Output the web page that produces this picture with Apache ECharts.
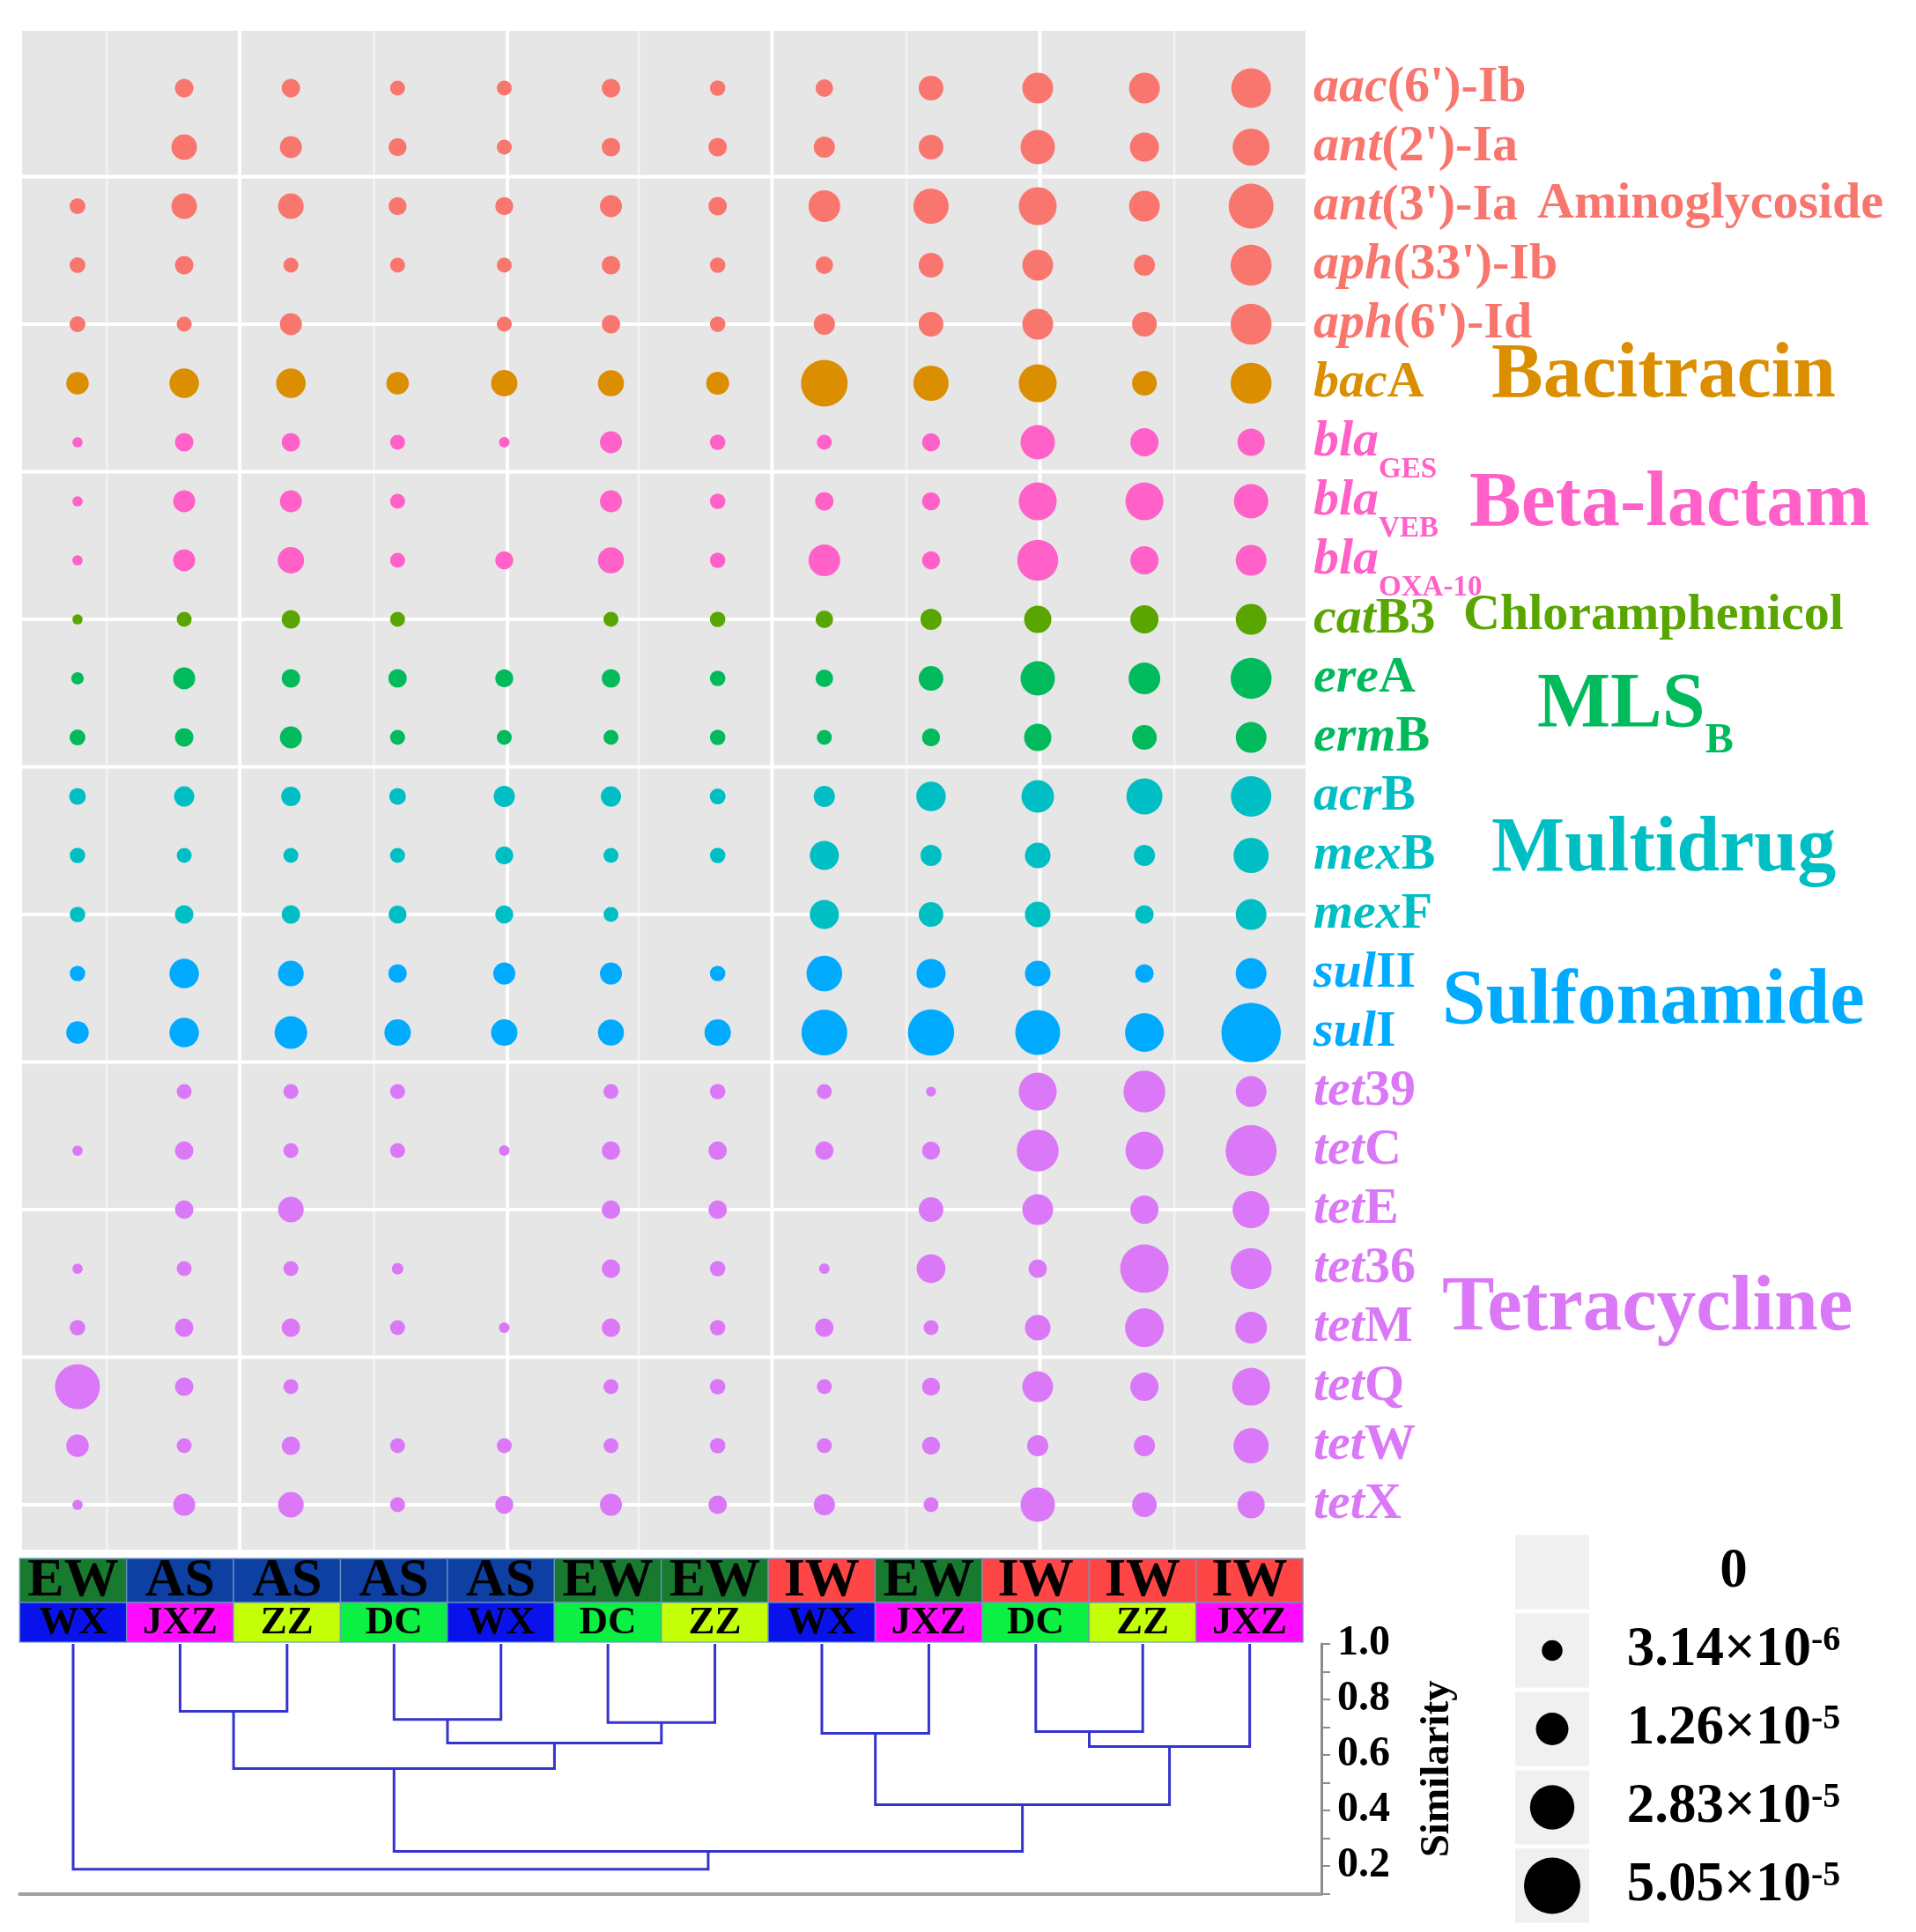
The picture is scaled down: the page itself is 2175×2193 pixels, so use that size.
<!DOCTYPE html>
<html>
<head>
<meta charset="utf-8">
<script src="https://cdn.jsdelivr.net/npm/echarts@6/dist/echarts.min.js"></script>
<style>html,body{margin:0;padding:0;background:#fff}#c{width:2175px;height:2193px}</style>
</head>
<body>
<div id="c"></div>
<script>
// ---------------- data ----------------
const genes = ["aac(6')-Ib","ant(2')-Ia","ant(3')-Ia","aph(33')-Ib","aph(6')-Id","bacA","blaGES","blaVEB","blaOXA-10","catB3","ereA","ermB","acrB","mexB","mexF","sulII","sulI","tet39","tetC","tetE","tet36","tetM","tetQ","tetW","tetX"];
const geneClass = [0,0,0,0,0,1,2,2,2,3,4,4,5,5,5,6,6,7,7,7,7,7,7,7,7];
const classNames = ['Aminoglycoside','Bacitracin','Beta-lactam','Chloramphenicol','MLSB','Multidrug','Sulfonamide','Tetracycline'];
const classColors = ['#F8766D','#DB8E00','#FF61C9','#5AA600','#00BA5C','#00BFC4','#00AAFF','#DA78F8'];
const groups = ['EW','AS','AS','AS','AS','EW','EW','IW','EW','IW','IW','IW'];
const sites  = ['WX','JXZ','ZZ','DC','WX','DC','ZZ','WX','JXZ','DC','ZZ','JXZ'];
const groupColors = {EW:'#177A2F', AS:'#0E3FA3', IW:'#FF4646'};
const siteColors  = {WX:'#0A12EC', JXZ:'#FF0CFF', ZZ:'#C4FF0A', DC:'#0CF044'};
// relative abundance, units of 10^-6 (rows = genes, columns = samples)
const abundance = [
  [0, 2.1, 2.1, 0.85, 0.85, 2.1, 1.0, 1.7, 5.6, 10.8, 10.8, 21.2],
  [0, 6.3, 3.9, 1.9, 0.85, 2.1, 2.1, 3.4, 5.6, 14.6, 9.2, 17.7],
  [1.1, 6.3, 6.3, 1.9, 1.9, 3.9, 2.1, 11.7, 15.6, 18.9, 10.8, 29.1],
  [1.1, 2.1, 0.85, 0.85, 0.85, 2.1, 1.0, 1.7, 5.6, 10.8, 3.4, 23.1],
  [1.1, 0.85, 3.9, 0, 0.85, 2.1, 1.0, 3.4, 5.6, 10.8, 5.6, 23.1],
  [4.2, 9.6, 9.6, 4.2, 6.9, 6.6, 4.4, 32, 15.6, 18.9, 5.6, 23.1],
  [0.05, 2.1, 2.1, 0.85, 0.07, 3.9, 1.0, 0.85, 1.9, 14.6, 8.4, 7.6],
  [0.05, 3.9, 3.9, 0.85, 0, 3.9, 1.0, 2.1, 1.9, 18.9, 18.9, 14.6],
  [0.05, 3.9, 6.9, 0.85, 1.9, 6.6, 1.0, 11.7, 1.9, 23.1, 8.4, 10.8],
  [0.05, 0.85, 2.1, 0.85, 0, 0.85, 1.0, 1.7, 3.4, 7.6, 8.4, 10.8],
  [0.3, 3.9, 2.1, 2.1, 1.9, 2.1, 1.0, 1.7, 5.6, 14.6, 11.7, 23.1],
  [1.1, 2.1, 3.9, 0.85, 0.85, 0.85, 1.0, 0.85, 1.9, 7.6, 5.6, 10.8],
  [1.4, 2.9, 2.5, 1.4, 3.4, 2.9, 1.1, 3.4, 9.6, 12.6, 16.6, 22.4],
  [1.0, 0.85, 0.85, 0.85, 1.9, 0.85, 1.0, 9.2, 3.4, 6.3, 3.4, 15.6],
  [1.0, 2.1, 2.1, 1.9, 1.9, 0.85, 0, 9.2, 5.6, 6.3, 2.1, 10.8],
  [1.0, 9.6, 6.3, 2.1, 3.9, 3.9, 1.0, 16.1, 9.2, 6.3, 2.1, 10.8],
  [4.2, 9.6, 12.6, 6.9, 6.9, 6.6, 6.9, 30.5, 31.4, 29.1, 20.0, 57.3],
  [0, 0.85, 0.85, 0.85, 0, 0.85, 1.0, 0.85, 0.03, 18.9, 24.4, 10.8],
  [0.05, 2.1, 0.85, 0.85, 0.07, 2.1, 2.1, 2.1, 1.9, 24.4, 18.9, 39.9],
  [0, 2.1, 6.3, 0, 0, 2.1, 2.1, 0, 5.6, 10.8, 8.4, 17.7],
  [0.05, 0.85, 0.85, 0.16, 0, 2.1, 1.0, 0.07, 8.9, 2.1, 35.1, 23.1],
  [1.0, 2.1, 2.1, 0.85, 0.07, 2.1, 1.0, 2.1, 0.85, 6.3, 20.0, 11.7],
  [29.1, 2.1, 0.85, 0, 0, 0.85, 1.0, 0.85, 1.9, 10.8, 8.4, 18.9],
  [4.2, 0.85, 2.1, 0.85, 0.85, 0.85, 1.0, 0.85, 1.9, 3.4, 3.4, 15.6],
  [0.05, 3.9, 6.3, 0.85, 1.9, 3.9, 2.1, 3.4, 0.85, 14.6, 5.6, 7.6]
];
// size legend breaks, units of 10^-6
const legendBreaks = [0, 3.14, 12.6, 28.3, 50.5];
// hierarchical clustering (hclust convention: negative = leaf index+1, positive = earlier merge row)
const merges = [
  [-2, -3, 0.757],
  [-4, -5, 0.728],
  [-6, -7, 0.717],
  [2, 3, 0.643],
  [1, 4, 0.551],
  [-8, -9, 0.678],
  [-10, -11, 0.684],
  [7, -12, 0.630],
  [6, 8, 0.421],
  [5, 9, 0.252],
  [-1, 10, 0.188]
];
// panel grid line positions (in column / row units)
const gridXMajor = [1.52, 4.03, 6.51, 9.02];
const gridXMinor = [0.275, 2.78, 5.26, 7.77, 10.28];
const gridY = [1.5, 4, 6.5, 9, 11.5, 14, 16.5, 19, 21.5, 24];

// ---------------- helpers ----------------
const FONT = '"Liberation Serif", "Times New Roman", serif';
const sizeOf = v => v > 0 ? 10 + 54 * Math.sqrt(v / 50.5) : 0;

const dotData = [];
abundance.forEach((row, r) => row.forEach((v, c) => { if (v > 0) dotData.push([c, r, v]); }));

const gridLineData = gridXMinor.map(x => [x, 0]).concat(gridXMajor.map(x => [x, 1])).concat(gridY.map(y => [y, 2]));

const geneRich = {};
classColors.forEach((col, k) => {
  geneRich['i' + k] = {fontFamily: FONT, fontWeight: 'bold', fontStyle: 'italic', fontSize: 58, lineHeight: 96, verticalAlign: 'middle', color: col};
  geneRich['n' + k] = {fontFamily: FONT, fontWeight: 'bold', fontStyle: 'normal', fontSize: 58, lineHeight: 96, verticalAlign: 'middle', color: col};
  geneRich['s' + k] = {fontFamily: FONT, fontWeight: 'bold', fontStyle: 'normal', fontSize: 33, lineHeight: 35, verticalAlign: 'bottom', color: col};
});
function geneLabel(name, idx) {
  const k = geneClass[idx];
  const it = name.slice(0, 3), rest = name.slice(3);
  if (it === 'bla') return '{i' + k + '|' + it + '}{s' + k + '|' + rest + '}';
  return '{i' + k + '|' + it + '}{n' + k + '|' + rest + '}';
}
function legendLabel(v) {
  if (v === 0) return '{m|0}';
  const x = v * 1e-6;
  const e = Math.floor(Math.log10(x));
  const m = (x / Math.pow(10, e)).toFixed(2);
  return '{m|' + m + '×10}{p|' + e + '}';
}

// dendrogram segments
const nodeX = [], nodeH = [];
const posOf = id => id < 0 ? [-id - 1, 1.0] : [nodeX[id - 1], nodeH[id - 1]];
const dendroSegs = merges.map(([a, b, h], k) => {
  const pa = posOf(a), pb = posOf(b);
  nodeX[k] = (pa[0] + pb[0]) / 2; nodeH[k] = h;
  return {coords: [[pa[0], pa[1]], [pa[0], h], [pb[0], h], [pb[0], pb[1]]]};
});

const cells = [];
groups.forEach((g, c) => { cells.push([c, 0]); cells.push([c, 1]); });
const rowTop = [0, 1], rowBottom = [1, 1.9];

// class label layout
const classLayout = [
  {x: 1745, y: 232, size: 58},
  {x: 1693, y: 427, size: 88},
  {x: 1668, y: 573, size: 88},
  {x: 1661, y: 699, size: 58},
  {x: 1745, y: 801, size: 88},
  {x: 1693, y: 965, size: 88},
  {x: 1637, y: 1138, size: 89},
  {x: 1637, y: 1486, size: 89}
];
const graphics = classNames.map((name, k) => {
  const L = classLayout[k];
  if (name === 'MLSB') {
    return {type: 'text', x: L.x, y: L.y, silent: true, style: {
      text: '{m|MLS}{b|B}', align: 'left', verticalAlign: 'middle',
      rich: {
        m: {fontFamily: FONT, fontWeight: 'bold', fontSize: L.size, lineHeight: 130, verticalAlign: 'middle', fill: classColors[k], color: classColors[k]},
        b: {fontFamily: FONT, fontWeight: 'bold', fontSize: 48, lineHeight: 50, verticalAlign: 'bottom', fill: classColors[k], color: classColors[k]}
      }
    }};
  }
  return {type: 'text', x: L.x, y: L.y, silent: true, style: {
    text: name, fill: classColors[k], align: 'left', verticalAlign: 'middle',
    font: 'bold ' + L.size + 'px ' + FONT
  }};
});

// ---------------- chart ----------------
const chart = echarts.init(document.getElementById('c'), null, {width: 2175, height: 2193});
chart.setOption({
  animation: false,
  backgroundColor: '#ffffff',
  grid: [
    {left: 25, top: 35, width: 1457, height: 1724, show: true, backgroundColor: '#E6E6E6', borderWidth: 0},
    {left: 25, top: 66.5, width: 1457, height: 1675, show: false},
    {left: 1720, top: 1740, width: 84, height: 445, show: false},
    {left: 22.3, top: 1769, width: 1456.8, height: 95, show: false},
    {left: 22.3, top: 1866, width: 1477.7, height: 283.5, show: false}
  ],
  xAxis: [
    {gridIndex: 0, type: 'value', min: -0.52, max: 11.51, show: false},
    {gridIndex: 1, type: 'value', min: 0, max: 1, show: false},
    {gridIndex: 2, type: 'value', min: -0.5, max: 0.5, show: false},
    {gridIndex: 3, type: 'value', min: -0.5, max: 11.5, show: false},
    {gridIndex: 4, type: 'value', min: -0.5, max: 11.67, show: true, position: 'bottom',
      axisLine: {show: true, onZero: false, lineStyle: {color: '#A0A0A0', width: 4}},
      axisTick: {show: false}, axisLabel: {show: false}, splitLine: {show: false}}
  ],
  yAxis: [
    {gridIndex: 0, type: 'value', inverse: true, min: -0.97, max: 24.76, show: false},
    {gridIndex: 1, type: 'category', inverse: true, data: genes, position: 'right',
      axisLine: {show: false}, axisTick: {show: false}, splitLine: {show: false},
      axisLabel: {interval: 0, margin: 9, align: 'left', formatter: (v, i) => geneLabel(v, i), rich: geneRich}},
    {gridIndex: 2, type: 'category', inverse: true, data: legendBreaks.map(String), position: 'right',
      axisLine: {show: false}, axisTick: {show: false}, splitLine: {show: false},
      axisLabel: {interval: 0, margin: 164, align: 'center', formatter: (v, i) => legendLabel(legendBreaks[i]),
        rich: {
          m: {fontFamily: FONT, fontWeight: 'bold', fontSize: 63, lineHeight: 62, verticalAlign: 'middle', color: '#000'},
          p: {fontFamily: FONT, fontWeight: 'bold', fontSize: 40, lineHeight: 40, verticalAlign: 'top', color: '#000'}
        }}},
    {gridIndex: 3, type: 'value', inverse: true, min: 0, max: 1.9, show: false},
    {gridIndex: 4, type: 'value', min: 0.1, max: 1.0, interval: 0.1, position: 'right',
      axisLine: {show: true, onZero: false, lineStyle: {color: '#8C8C8C', width: 3}},
      axisTick: {show: true, length: 10, lineStyle: {color: '#8C8C8C', width: 2}},
      splitLine: {show: false},
      axisLabel: {margin: 18, color: '#000', fontFamily: FONT, fontWeight: 'bold', fontSize: 48,
        formatter: v => { const t = Math.round(v * 10); return t % 2 === 0 ? (t / 10).toFixed(1) : ''; }},
      name: 'Similarity', nameLocation: 'middle', nameRotate: 90, nameGap: 108,
      nameTextStyle: {color: '#000', fontFamily: FONT, fontWeight: 'bold', fontSize: 47}}
  ],
  series: [
    {type: 'custom', xAxisIndex: 0, yAxisIndex: 0, z: 1, silent: true, data: gridLineData,
      renderItem: (params, api) => {
        const cs = params.coordSys;
        const pos = api.value(0), kind = api.value(1);
        if (kind === 2) {
          const y = api.coord([0, pos])[1];
          return {type: 'line', shape: {x1: cs.x, y1: y, x2: cs.x + cs.width, y2: y}, style: {stroke: '#FFFFFF', lineWidth: 4}};
        }
        const x = api.coord([pos, 0])[0];
        return {type: 'line', shape: {x1: x, y1: cs.y, x2: x, y2: cs.y + cs.height},
          style: {stroke: kind === 1 ? '#FFFFFF' : '#F3F3F3', lineWidth: kind === 1 ? 4 : 2.5}};
      }},
    {type: 'scatter', xAxisIndex: 0, yAxisIndex: 0, z: 3, silent: true, data: dotData,
      symbol: 'circle', symbolSize: d => sizeOf(d[2]),
      itemStyle: {opacity: 1, color: p => classColors[geneClass[p.value[1]]]}},
    {type: 'custom', xAxisIndex: 2, yAxisIndex: 2, z: 1, silent: true, data: legendBreaks.map((v, i) => [0, i]),
      renderItem: (params, api) => {
        const i = api.value(1);
        const left = api.coord([-0.5, i])[0], right = api.coord([0.5, i])[0];
        const cy = api.coord([0, i])[1];
        return {type: 'rect', shape: {x: left, y: cy - 42, width: right - left, height: 84}, style: {fill: '#F0F0F0'}};
      }},
    {type: 'scatter', xAxisIndex: 2, yAxisIndex: 2, z: 3, silent: true,
      data: legendBreaks.map((v, i) => [0, i, v]), symbol: 'circle', symbolSize: d => sizeOf(d[2]),
      itemStyle: {color: '#000', opacity: 1}},
    {type: 'custom', xAxisIndex: 3, yAxisIndex: 3, silent: true, data: cells,
      renderItem: (params, api) => {
        const c = api.value(0), row = api.value(1);
        const p0 = api.coord([c - 0.5, rowTop[row]]), p1 = api.coord([c + 0.5, rowBottom[row]]);
        const label = row === 0 ? groups[c] : sites[c];
        const fill = row === 0 ? groupColors[label] : siteColors[label];
        const fs = row === 0 ? 62 : 45;
        return {type: 'group', children: [
          {type: 'rect', shape: {x: p0[0], y: p0[1], width: p1[0] - p0[0], height: p1[1] - p0[1]},
            style: {fill: fill, stroke: 'rgba(110,150,190,0.8)', lineWidth: 1.5}},
          {type: 'text', style: {text: label, x: (p0[0] + p1[0]) / 2, y: (p0[1] + p1[1]) / 2 + 1,
            align: 'center', verticalAlign: 'middle', fill: '#000', font: 'bold ' + fs + 'px ' + FONT}}
        ]};
      }},
    {type: 'lines', coordinateSystem: 'cartesian2d', xAxisIndex: 4, yAxisIndex: 4, polyline: true, silent: true,
      data: dendroSegs, lineStyle: {color: '#3434D0', width: 3, opacity: 1}}
  ],
  graphic: graphics
});
</script>
</body>
</html>
